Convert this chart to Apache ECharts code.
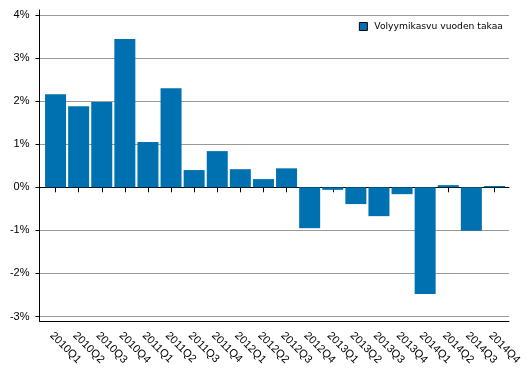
<!DOCTYPE html>
<html>
<head>
<meta charset="utf-8">
<script src="https://cdn.jsdelivr.net/npm/echarts@6/dist/echarts.min.js"></script>
<style>
	html, body { margin: 0; padding: 0; background: #fff; }
	#chart { width: 529px; height: 378px; }
</style>
</head>
<body>
<div id="chart"></div>
<script>
// Datos del gráfico
const neljännekset = [
	'2010Q1', '2010Q2', '2010Q3', '2010Q4',
	'2011Q1', '2011Q2', '2011Q3', '2011Q4',
	'2012Q1', '2012Q2', '2012Q3', '2012Q4',
	'2013Q1', '2013Q2', '2013Q3', '2013Q4',
	'2014Q1', '2014Q2', '2014Q3', '2014Q4',
]
const volyymikasvu = [
	2.16, 1.88, 1.98, 3.44,
	1.05, 2.30, 0.40, 0.84,
	0.42, 0.19, 0.44, -0.95,
	-0.06, -0.39, -0.67, -0.16,
	-2.48, 0.05, -1.01, 0.03,
]
const sarjanNimi = 'Volyymikasvu vuoden takaa'
const yMin = -3
const yMax = 4

const chart = echarts.init(document.getElementById('chart'))
const fuente = 'Liberation Sans, Arial, sans-serif'

chart.setOption({
	animation: false,
	textStyle: { fontFamily: fuente },
	legend: {
		data: [sarjanNimi],
		right: 21,
		top: 17,
		icon: 'rect',
		itemWidth: 8,
		itemHeight: 8,
		itemGap: 6,
		itemStyle: { borderColor: '#000', borderWidth: 1 },
		textStyle: { fontFamily: 'DejaVu Sans', fontSize: 9.2, color: '#000', padding: [0, 0, 0, 2] },
	},
	grid: [
		// marco exterior (líneas de eje)
		{ left: 39.5, right: 20, top: 10, bottom: 57 },
		// escala con etiquetas y líneas de división
		{ left: 39.5, right: 20, top: 15, bottom: 61.5 },
		// barras
		{ left: 44, right: 23, top: 15, bottom: 61.5 },
	],
	xAxis: [
		{
			gridIndex: 0, type: 'value', min: 0, max: 1,
			axisLine: { onZero: false, lineStyle: { color: '#000', width: 1 } },
			axisTick: { show: false }, axisLabel: { show: false }, splitLine: { show: false },
		},
		{
			gridIndex: 1, type: 'value', min: 0, max: 1,
			axisLine: { onZero: true, lineStyle: { color: '#000', width: 1 } },
			axisTick: { show: false }, axisLabel: { show: false }, splitLine: { show: false },
		},
		{
			gridIndex: 2, type: 'category', data: neljännekset,
			position: 'bottom', offset: 4.5,
			axisLine: { show: false },
			axisTick: { show: true, alignWithLabel: true, length: 5, lineStyle: { color: '#000' } },
			axisLabel: {
				rotate: -45, fontSize: 11, color: '#000', margin: 9, interval: 0,
				align: 'left', verticalAlign: 'top',
			},
			splitLine: { show: false },
		},
	],
	yAxis: [
		{
			gridIndex: 0, type: 'value', min: 0, max: 1,
			axisLine: { show: true, lineStyle: { color: '#000', width: 1 } },
			axisTick: { show: false }, axisLabel: { show: false }, splitLine: { show: false },
		},
		{
			gridIndex: 1, type: 'value', min: yMin, max: yMax, interval: 1,
			axisLine: { show: false },
			axisTick: { show: true, length: 4, lineStyle: { color: '#000' } },
			axisLabel: { fontSize: 11, color: '#000', margin: 10, formatter: '{value}%' },
			splitLine: { lineStyle: { color: '#999', width: 1 } },
		},
		{
			gridIndex: 2, type: 'value', min: yMin, max: yMax,
			show: false,
		},
	],
	series: [
		{
			name: sarjanNimi,
			type: 'bar',
			xAxisIndex: 2,
			yAxisIndex: 2,
			data: volyymikasvu,
			barWidth: 21,
			itemStyle: { color: '#0071b0' },
			z: 1,
		},
	],
})
</script>
</body>
</html>
